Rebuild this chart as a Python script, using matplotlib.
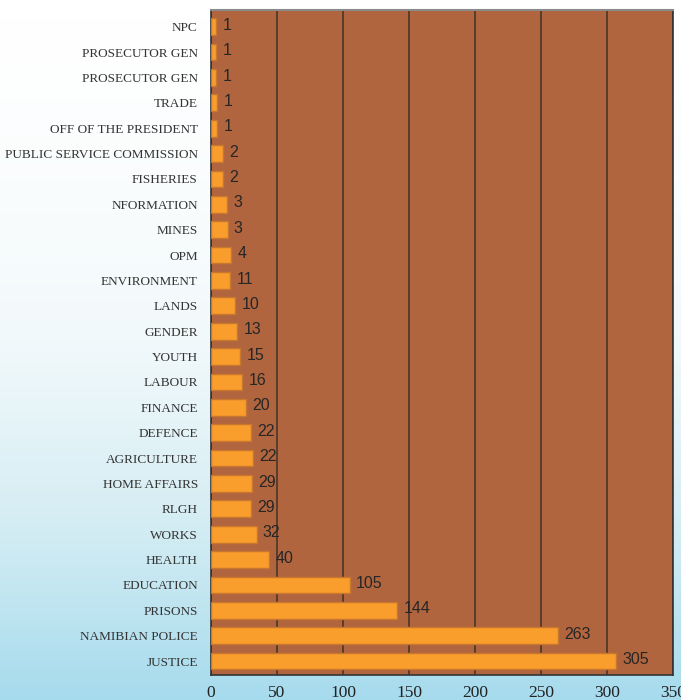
import numpy as np
import matplotlib
matplotlib.use('Agg')
import matplotlib.pyplot as plt
from matplotlib.colors import LinearSegmentedColormap

# categories, top to bottom as in the chart
ministries = ['NPC', 'PROSECUTOR GEN', 'PROSECUTOR GEN', 'TRADE', 'OFF OF THE PRESIDENT',
              'PUBLIC SERVICE COMMISSION', 'FISHERIES', 'NFORMATION', 'MINES', 'OPM',
              'ENVIRONMENT', 'LANDS', 'GENDER', 'YOUTH', 'LABOUR', 'FINANCE', 'DEFENCE',
              'AGRICULTURE', 'HOME AFFAIRS', 'RLGH', 'WORKS', 'HEALTH', 'EDUCATION',
              'PRISONS', 'NAMIBIAN POLICE', 'JUSTICE']

# numbers printed next to the bars
counts = [1, 1, 1, 1, 1, 2, 2, 3, 3, 4, 11, 10, 13, 15, 16, 20, 22, 22, 29, 29, 32, 40,
          105, 144, 263, 305]

# bar lengths as drawn in the picture (not always equal to the printed number)
bar_lengths = [3.8, 3.8, 3.8, 4.8, 4.8, 9.3, 9.3, 12.4, 12.6, 15.2, 14.4, 18.2, 19.9, 22,
               23.7, 26.5, 30.3, 32, 30.8, 30, 34.6, 44.2, 105.3, 141, 262.6, 307]

x_ticks = [0, 50, 100, 150, 200, 250, 300, 350]

fig = plt.figure(figsize=(6.81, 7.0), dpi=100)

# background gradient, white at the top to light blue at the bottom
bg = fig.add_axes([0, 0, 1, 1], zorder=0)
bg.axis('off')
grad = np.linspace(0, 1, 256).reshape(-1, 1) ** 1.5
cmap = LinearSegmentedColormap.from_list('bg', ['#ffffff', '#f2f9fb', '#d2ecf3', '#a6dbed'])
bg.imshow(grad, aspect='auto', cmap=cmap, extent=[0, 1, 0, 1], origin='upper')

ax = fig.add_axes([211 / 681, 25 / 700, 462 / 681, 665 / 700], zorder=1)
ax.set_facecolor('#b0653f')

y = np.arange(len(ministries))
ax.barh(y, bar_lengths, height=0.66, color='#f99d2c', edgecolor='#c8772e', linewidth=1,
        zorder=3)

for yi, length, c in zip(y, bar_lengths, counts):
    ax.annotate(str(c), xy=(length, yi), xytext=(4.5, 1), textcoords='offset points',
                ha='left', va='center', fontsize=11.5, family='Liberation Sans',
                color='#262626', zorder=4)

ax.set_xlim(0, 350)
ax.set_ylim(len(ministries) - 1 + 0.55, -0.66)
ax.set_xticks(x_ticks)
ax.set_xticklabels([str(t) for t in x_ticks], family='Liberation Serif', fontsize=12.5,
                   color='#222222')
ax.set_yticks(y)
ax.set_yticklabels(ministries, family='Liberation Serif', fontsize=9.5, color='#333333')
ax.tick_params(axis='y', length=0, pad=9.5)
ax.tick_params(axis='x', length=0, pad=7)

ax.grid(axis='x', color='#4a3527', linewidth=1.2)
ax.set_axisbelow(True)

for side in ['left', 'bottom', 'right']:
    ax.spines[side].set_color('#333333')
    ax.spines[side].set_linewidth(1.2)
ax.spines['top'].set_color('#8a8a8a')
ax.spines['top'].set_linewidth(1.5)

fig.savefig('out.png', dpi=100)
